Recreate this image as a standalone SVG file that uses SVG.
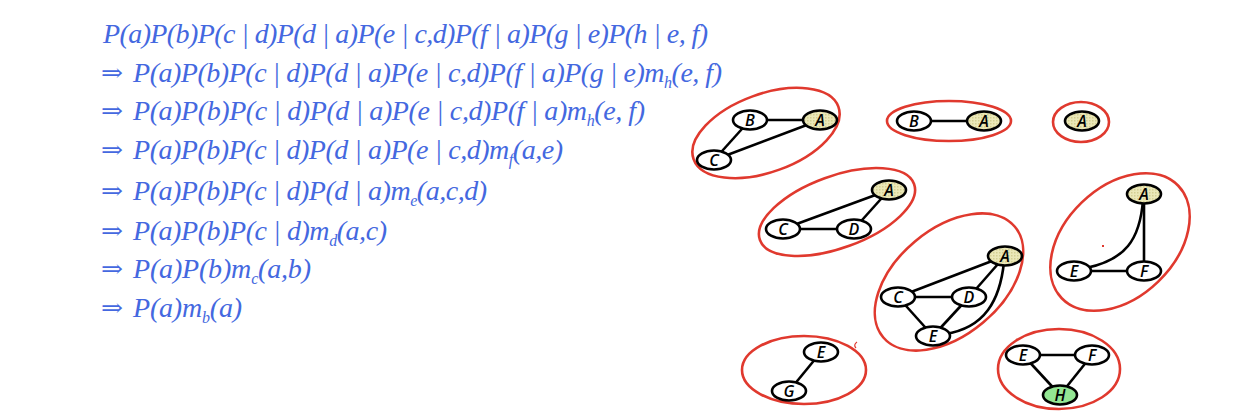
<svg xmlns="http://www.w3.org/2000/svg" width="1240" height="414" viewBox="0 0 1240 414">
<defs>
<pattern id="dots" width="3" height="3" patternUnits="userSpaceOnUse">
<rect width="3" height="3" fill="#ebe8b8"/>
<rect width="1.5" height="1.5" fill="#d3cf92"/>
</pattern>
<style>
.eq{font-family:"Liberation Serif","Times New Roman",serif;font-style:italic;font-size:28px;fill:#4468e0}
.arr{font-family:"DejaVu Serif","Liberation Serif",serif;font-size:24px;fill:#4468e0}
.sub{font-size:16px}
.clq{fill:none;stroke:#e0392e;stroke-width:2.6}
.nd{fill:#fff;stroke:#000;stroke-width:2.6}
.ev{fill:url(#dots)}
.q{fill:#93e693}
.lb{font-family:"Open Sans","DejaVu Sans",sans-serif;font-style:italic;font-weight:600;font-size:16px;fill:#000;text-anchor:middle}
.ed{fill:none;stroke:#000;stroke-width:2.6}
</style>
</defs>
<rect width="1240" height="414" fill="#fff"/>

<g id="equations">
<text class="eq" x="103" y="43" textLength="605" lengthAdjust="spacing">P(a)P(b)P(c | d)P(d | a)P(e | c,d)P(f | a)P(g | e)P(h | e, f)</text>
<text class="arr" x="101" y="81" textLength="22" lengthAdjust="spacingAndGlyphs">⇒</text>
<text class="eq" x="133" y="82" textLength="589" lengthAdjust="spacing">P(a)P(b)P(c | d)P(d | a)P(e | c,d)P(f | a)P(g | e)m<tspan class="sub" dy="6">h</tspan><tspan dy="-6">(e, f)</tspan></text>
<text class="arr" x="101" y="119" textLength="22" lengthAdjust="spacingAndGlyphs">⇒</text>
<text class="eq" x="133" y="120" textLength="512" lengthAdjust="spacing">P(a)P(b)P(c | d)P(d | a)P(e | c,d)P(f | a)m<tspan class="sub" dy="6">h</tspan><tspan dy="-6">(e, f)</tspan></text>
<text class="arr" x="101" y="158" textLength="22" lengthAdjust="spacingAndGlyphs">⇒</text>
<text class="eq" x="133" y="159" textLength="430" lengthAdjust="spacing">P(a)P(b)P(c | d)P(d | a)P(e | c,d)m<tspan class="sub" dy="6">f</tspan><tspan dy="-6">(a,e)</tspan></text>
<text class="arr" x="101" y="199" textLength="22" lengthAdjust="spacingAndGlyphs">⇒</text>
<text class="eq" x="133" y="200" textLength="354" lengthAdjust="spacing">P(a)P(b)P(c | d)P(d | a)m<tspan class="sub" dy="6">e</tspan><tspan dy="-6">(a,c,d)</tspan></text>
<text class="arr" x="101" y="239" textLength="22" lengthAdjust="spacingAndGlyphs">⇒</text>
<text class="eq" x="133" y="240" textLength="254" lengthAdjust="spacing">P(a)P(b)P(c | d)m<tspan class="sub" dy="6">d</tspan><tspan dy="-6">(a,c)</tspan></text>
<text class="arr" x="101" y="277" textLength="22" lengthAdjust="spacingAndGlyphs">⇒</text>
<text class="eq" x="133" y="278" textLength="178" lengthAdjust="spacing">P(a)P(b)m<tspan class="sub" dy="6">c</tspan><tspan dy="-6">(a,b)</tspan></text>
<text class="arr" x="101" y="316" textLength="22" lengthAdjust="spacingAndGlyphs">⇒</text>
<text class="eq" x="133" y="317" textLength="109" lengthAdjust="spacing">P(a)m<tspan class="sub" dy="6">b</tspan><tspan dy="-6">(a)</tspan></text>
</g>

<g id="cliques">
<ellipse class="clq" cx="766" cy="133" rx="77" ry="39" transform="rotate(-20 766 133)"/>
<ellipse class="clq" cx="949" cy="121" rx="62" ry="20"/>
<ellipse class="clq" cx="1081" cy="122" rx="28" ry="20"/>
<ellipse class="clq" cx="837" cy="212" rx="82" ry="36" transform="rotate(-20 837 212)"/>
<ellipse class="clq" cx="949" cy="282" rx="86" ry="53" transform="rotate(-40 949 282)"/>
<ellipse class="clq" cx="1120" cy="242" rx="81" ry="55" transform="rotate(-44 1120 242)"/>
<ellipse class="clq" cx="804" cy="370" rx="62" ry="34"/>
<ellipse class="clq" cx="1059" cy="369" rx="61" ry="40"/>
<rect x="1102" y="245" width="2" height="2" fill="#e0392e"/>
<path d="M857,342 Q853,345 856,348" fill="none" stroke="#e0392e" stroke-width="1.2"/>
</g>

<g id="connectors">
<line class="ed" x1="750" y1="120" x2="820" y2="120"/>
<line class="ed" x1="750" y1="120" x2="714" y2="160"/>
<line class="ed" x1="714" y1="160" x2="820" y2="120"/>
<line class="ed" x1="914" y1="121" x2="984" y2="121"/>
<line class="ed" x1="783" y1="229" x2="889" y2="190"/>
<line class="ed" x1="783" y1="229" x2="854" y2="229"/>
<line class="ed" x1="854" y1="229" x2="889" y2="190"/>
<line class="ed" x1="898" y1="297" x2="1005" y2="256"/>
<line class="ed" x1="898" y1="297" x2="969" y2="297"/>
<line class="ed" x1="969" y1="297" x2="1005" y2="256"/>
<line class="ed" x1="898" y1="297" x2="933" y2="336"/>
<line class="ed" x1="969" y1="297" x2="933" y2="336"/>
<path class="ed" d="M945,334 C985,328 1000,300 1004,262"/>
<line class="ed" x1="1144" y1="194" x2="1144" y2="271"/>
<line class="ed" x1="1074" y1="271" x2="1144" y2="271"/>
<path class="ed" d="M1086,268 C1125,260 1140,240 1143,200"/>
<line class="ed" x1="821" y1="352" x2="789" y2="391"/>
<line class="ed" x1="1023" y1="355" x2="1092" y2="355"/>
<line class="ed" x1="1023" y1="355" x2="1060" y2="395"/>
<line class="ed" x1="1092" y1="355" x2="1060" y2="395"/>
</g>

<g id="n1-B"><ellipse class="nd" cx="750" cy="120" rx="17" ry="9.5"/><text class="lb" x="750" y="125.5">B</text></g>
<g id="n1-A"><ellipse class="nd ev" cx="820" cy="120" rx="17" ry="9.5"/><text class="lb" x="820" y="125.5">A</text></g>
<g id="n1-C"><ellipse class="nd" cx="714" cy="160" rx="17" ry="9.5"/><text class="lb" x="714" y="165.5">C</text></g>

<g id="n2-B"><ellipse class="nd" cx="914" cy="121" rx="17" ry="9.5"/><text class="lb" x="914" y="126.5">B</text></g>
<g id="n2-A"><ellipse class="nd ev" cx="984" cy="121" rx="17" ry="9.5"/><text class="lb" x="984" y="126.5">A</text></g>

<g id="n3-A"><ellipse class="nd ev" cx="1082" cy="121" rx="17" ry="9.5"/><text class="lb" x="1082" y="126.5">A</text></g>

<g id="n4-A"><ellipse class="nd ev" cx="889" cy="190" rx="17" ry="9.5"/><text class="lb" x="889" y="195.5">A</text></g>
<g id="n4-C"><ellipse class="nd" cx="783" cy="229" rx="17" ry="9.5"/><text class="lb" x="783" y="234.5">C</text></g>
<g id="n4-D"><ellipse class="nd" cx="854" cy="229" rx="17" ry="9.5"/><text class="lb" x="854" y="234.5">D</text></g>

<g id="n5-A"><ellipse class="nd ev" cx="1005" cy="256" rx="17" ry="9.5"/><text class="lb" x="1005" y="261.5">A</text></g>
<g id="n5-C"><ellipse class="nd" cx="898" cy="297" rx="17" ry="9.5"/><text class="lb" x="898" y="302.5">C</text></g>
<g id="n5-D"><ellipse class="nd" cx="969" cy="297" rx="17" ry="9.5"/><text class="lb" x="969" y="302.5">D</text></g>
<g id="n5-E"><ellipse class="nd" cx="933" cy="336" rx="17" ry="9.5"/><text class="lb" x="933" y="341.5">E</text></g>

<g id="n6-A"><ellipse class="nd ev" cx="1144" cy="194" rx="17" ry="9.5"/><text class="lb" x="1144" y="199.5">A</text></g>
<g id="n6-E"><ellipse class="nd" cx="1074" cy="271" rx="17" ry="9.5"/><text class="lb" x="1074" y="276.5">E</text></g>
<g id="n6-F"><ellipse class="nd" cx="1144" cy="271" rx="17" ry="9.5"/><text class="lb" x="1144" y="276.5">F</text></g>

<g id="n7-E"><ellipse class="nd" cx="821" cy="352" rx="17" ry="9.5"/><text class="lb" x="821" y="357.5">E</text></g>
<g id="n7-G"><ellipse class="nd" cx="789" cy="391" rx="17" ry="9.5"/><text class="lb" x="789" y="396.5">G</text></g>

<g id="n8-E"><ellipse class="nd" cx="1023" cy="355" rx="17" ry="9.5"/><text class="lb" x="1023" y="360.5">E</text></g>
<g id="n8-F"><ellipse class="nd" cx="1092" cy="355" rx="17" ry="9.5"/><text class="lb" x="1092" y="360.5">F</text></g>
<g id="n8-H"><ellipse class="nd q" cx="1060" cy="395" rx="17" ry="9.5"/><text class="lb" x="1060" y="400.5">H</text></g>
</svg>
